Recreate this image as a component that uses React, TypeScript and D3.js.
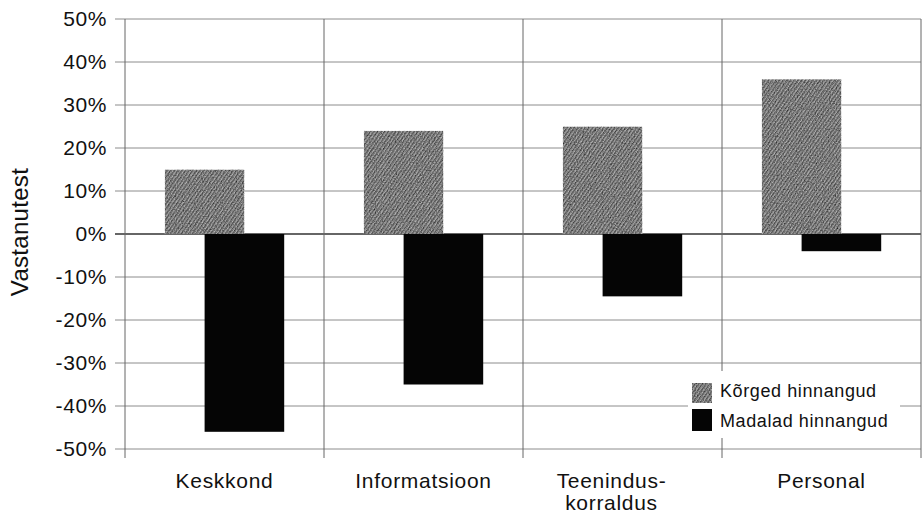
import React from "react";
import * as d3 from "d3";

const categories: string[][] = [["Keskkond"], ["Informatsioon"], ["Teenindus-", "korraldus"], ["Personal"]];
const highRatings = [15, 24, 25, 36];
const lowRatings = [-46, -35, -14.5, -4];
const yTicks = [50, 40, 30, 20, 10, 0, -10, -20, -30, -40, -50];
const seriesNames = ["K\u00f5rged hinnangud", "Madalad hinnangud"];

export default function App() {
  const W = 923, H = 517;
  const left = 125, right = 921, top = 19, bottom = 449;
  const x = d3.scaleBand<number>().domain(d3.range(categories.length)).range([left, right]).padding(0);
  const y = d3.scaleLinear().domain([-50, 50]).range([bottom, top]);
  const bw = x.bandwidth();
  const barW = bw * 0.4;
  const font = "Liberation Sans, Arial, Helvetica, sans-serif";
  const grayFill = "url(#stipple)";
  return (
    <svg width={W} height={H} style={{ position: "absolute", left: 0, top: 0 }}>
      <defs>
        <pattern id="stipple" width="3" height="3" patternUnits="userSpaceOnUse" patternTransform="rotate(-55)">
          <rect width="3" height="3" fill="#b4b4b4" />
          <rect width="3" height="1.4" fill="#6a6a6a" />
        </pattern>
        <filter id="grain" x="0" y="0" width="1" height="1">
          <feTurbulence type="fractalNoise" baseFrequency="0.85" numOctaves="2" seed="3" result="n" />
          <feColorMatrix in="n" type="matrix" values="1.6 0 0 0 -0.1  1.6 0 0 0 -0.1  1.6 0 0 0 -0.1  0 0 0 0 1" result="g" />
          <feBlend in="SourceGraphic" in2="g" mode="multiply" result="b" />
          <feComposite in="b" in2="SourceGraphic" operator="in" />
        </filter>
      </defs>
      <rect width={W} height={H} fill="#fff" />
      {yTicks.map((t) => (
        <line key={"h" + t} x1={left - 10} x2={right} y1={y(t)} y2={y(t)} stroke={t === 0 ? "#333" : "#8c8c8c"} strokeWidth={t === 0 ? 1.4 : 1} />
      ))}
      {d3.range(categories.length + 1).map((i) => {
        const xx = i < categories.length ? x(i)! : right;
        return <line key={"v" + i} x1={xx} x2={xx} y1={top} y2={bottom + 9} stroke="#666" strokeWidth={1} />;
      })}
      {highRatings.map((v, i) => (
        <rect key={"g" + i} x={x(i)! + bw * 0.2} width={barW} y={y(Math.max(0, v))} height={Math.abs(y(v) - y(0))} fill={grayFill} filter="url(#grain)" />
      ))}
      {lowRatings.map((v, i) => (
        <rect key={"b" + i} x={x(i)! + bw * 0.4} width={barW} y={y(Math.max(0, v))} height={Math.abs(y(v) - y(0))} fill="#050505" />
      ))}
      {yTicks.map((t) => (
        <text key={"t" + t} x={107} y={y(t) + 7} textAnchor="end" fontFamily={font} fontSize={21} letterSpacing={0.6} fill="#111">
          {t + "%"}
        </text>
      ))}
      <text transform={`translate(28,${y(0) - 2}) rotate(-90)`} textAnchor="middle" fontFamily={font} fontSize={24} letterSpacing={0.3} fill="#111">
        Vastanutest
      </text>
      {categories.map((lines, i) => {
        const cx = x(i)! + bw / 2 + (lines.length > 1 ? -11 : 0);
        return (
          <text key={"c" + i} x={cx} y={488} textAnchor="middle" fontFamily={font} fontSize={21} letterSpacing={0.7} fill="#111">
            {lines.map((l, j) => (
              <tspan key={j} x={cx} dy={j === 0 ? 0 : 22}>{l}</tspan>
            ))}
          </text>
        );
      })}
      <g>
        <rect x={688} y={371} width={212} height={67} fill="#fff" />
        <rect x={692} y={383} width={20} height={20} fill={grayFill} filter="url(#grain)" />
        <rect x={692} y={409} width={20} height={22} fill="#050505" />
        <text x={720} y={397} fontFamily={font} fontSize={18} letterSpacing={0.6} fill="#111">{seriesNames[0]}</text>
        <text x={720} y={427} fontFamily={font} fontSize={18} letterSpacing={0.6} fill="#111">{seriesNames[1]}</text>
      </g>
    </svg>
  );
}
